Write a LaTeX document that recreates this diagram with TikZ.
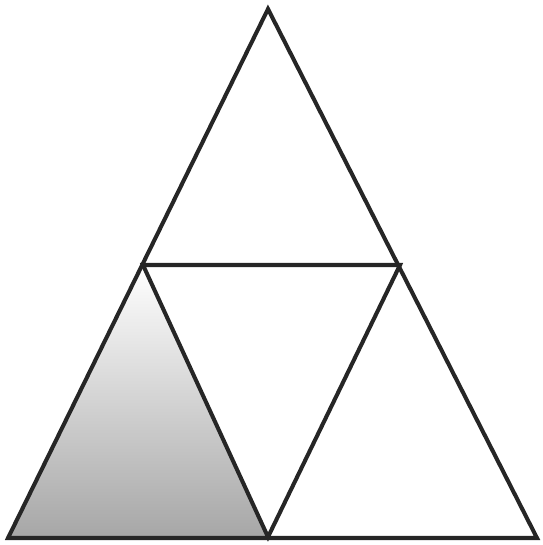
\documentclass[tikz,border=0pt]{standalone}
\usepackage{tikz}
\usetikzlibrary{calc}

\begin{document}
\begin{tikzpicture}[x=0.02cm,y=-0.02cm,
  edge/.style={line width=2.3pt,draw=black!85,line join=miter}]
  \useasboundingbox (0,0) rectangle (542,545);
  % outer corners and midpoints
  \coordinate (top) at (268,9);
  \coordinate (left) at (8,538);
  \coordinate (right) at (537,538);
  \coordinate (mleft) at (143,265);
  \coordinate (mright) at (400,265);
  \coordinate (mbot) at (268,537);
  % shaded corner triangle
  \begin{scope}
    \clip (mleft) -- (left) -- (mbot) -- cycle;
    \shade[top color=white,middle color=gray!25,bottom color=gray!70]
      (0,265) rectangle (280,540);
  \end{scope}
  \draw[edge] (top) -- (left) -- (right) -- cycle;
  \draw[edge] (mleft) -- (mright) -- (mbot) -- cycle;
\end{tikzpicture}
\end{document}
